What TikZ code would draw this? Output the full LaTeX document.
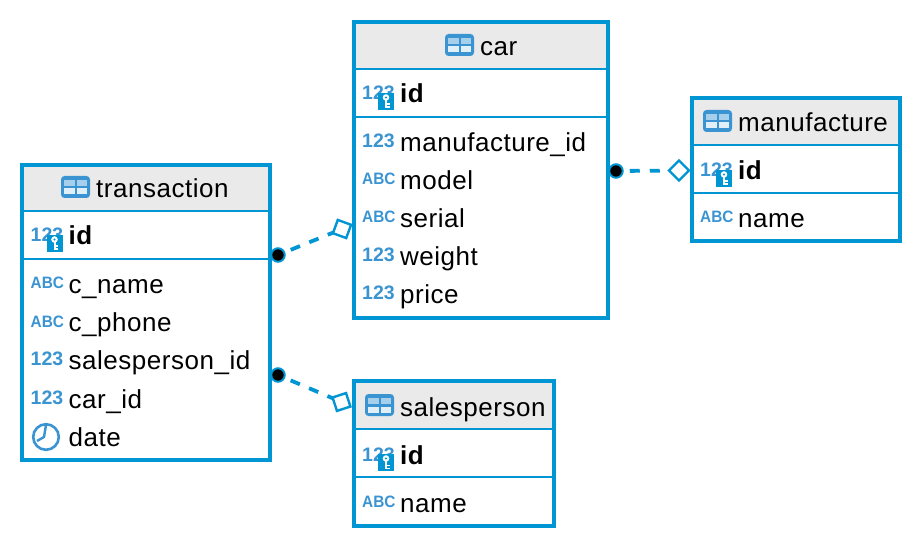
\documentclass[tikz,border=0pt]{standalone}
\usepackage{fontspec}
\setmainfont[LetterSpace=2.0]{Liberation Sans}
\newfontfamily\typefont{Liberation Sans}
\usetikzlibrary{shapes.geometric}
\definecolor{frameblue}{HTML}{0095D3}
\definecolor{iconblue}{HTML}{3A94D2}
\definecolor{headgrey}{HTML}{EAEAEA}
\tikzset{
  x=1pt,y=-1pt,
  tablebox/.style={draw=frameblue,line width=3.2pt,fill=white,inner sep=0pt,outer sep=0pt},
  rowtext/.style={anchor=base west,inner sep=0pt,font=\fontsize{26}{28}\selectfont,text=black},
  keytext/.style={rowtext,font=\fontsize{26}{28}\selectfont\bfseries},
  typetext/.style={anchor=base west,inner sep=0pt,font=\typefont\fontsize{19.5}{20}\selectfont\bfseries,text=iconblue},
  abctext/.style={anchor=base west,inner sep=0pt,xscale=.93,font=\typefont\fontsize{16.5}{18}\selectfont\bfseries,text=iconblue},
  sep/.style={draw=frameblue,line width=1.6pt},
  link/.style={draw=frameblue,line width=3.8pt,dash pattern=on 10pt off 10pt,dash phase=13pt},
  enddot/.style={circle,fill=black,draw=frameblue,line width=2pt,minimum size=13.5pt,inner sep=0pt,outer sep=0pt},
  endkite/.style={diamond,draw=frameblue,fill=white,line width=2.4pt,minimum size=20pt,inner sep=0pt,outer sep=0pt,aspect=1},
  pics/tableicon/.style={code={
    \fill[iconblue,rounded corners=3.5pt] (0,0) rectangle (29,22);
    \fill[white!55!iconblue] (3,4) rectangle (13.5,10);
    \fill[white!55!iconblue] (15.5,4) rectangle (26,10);
    \fill[white!85!iconblue] (3,12.5) rectangle (13.5,18.5);
    \fill[white!85!iconblue] (15.5,12.5) rectangle (26,18.5);
  }},
  pics/keyicon/.style={code={
    \fill[frameblue] (16,-1) rectangle (32,16);
    \fill[white] (24,3.5) circle (3.3);
    \fill[white] (23,5) rectangle (25,14);
    \fill[white] (25,9.5) rectangle (27.5,11);
    \fill[white] (25,12.5) rectangle (27.5,14);
    \fill[frameblue] (24,3.5) circle (1.2);
  }},
  pics/clockicon/.style={code={
    \draw[iconblue,line width=2.6pt] (14,0) circle (12.8);
    \draw[iconblue,line width=2.4pt] (14,-12) -- (12,0) -- (5,4);
  }}
}
\newcommand{\keyrow}[4]{%
  \node[typetext] (#1t) at (#2,#3+6) {123};
  \pic at (#2,#3) {keyicon};
  \node[keytext] (#1) at (#2+38,#3+9) {#4};}
\newcommand{\numrow}[4]{%
  \node[typetext] (#1t) at (#2,#3+5) {123};
  \node[rowtext] (#1) at (#2+38,#3+9) {#4};}
\newcommand{\abcrow}[4]{%
  \node[abctext] (#1t) at (#2,#3+4) {ABC};
  \node[rowtext] (#1) at (#2+38,#3+9) {#4};}
\newcommand{\tablehead}[8]{% name x1 y1 x2 y2 headline iconx title
  \node[tablebox,minimum width=#4pt-#2pt,minimum height=#5pt-#3pt,anchor=north west] (#1) at (#2,#3) {};
  \fill[headgrey] (#2+1.6,#3+1.6) rectangle (#4-1.6,#6);
  \draw[sep] (#1.north west |- 0,#6) -- (#1.north east |- 0,#6);
  \draw[frameblue,line width=3.2pt] (#1.north west) rectangle (#1.south east);
  \pic at (#7,#6-35) {tableicon};
  \node[rowtext] (#1title) at (#7+35,#6-13) {#8};}
\begin{document}
\begin{tikzpicture}
\useasboundingbox (0,0) rectangle (922,548);
\fill[white] (0,0) rectangle (922,548);

% transaction
\tablehead{transaction}{22}{165}{270}{460}{211}{61}{transaction}
\draw[sep] (transaction.west |- 0,259) -- (transaction.east |- 0,259);
\keyrow{tid}{30.5}{236}{id}
\abcrow{tname}{30.5}{285}{c\_name}
\abcrow{tphone}{30.5}{323}{c\_phone}
\numrow{tsales}{30.5}{361}{salesperson\_id}
\numrow{tcar}{30.5}{399}{car\_id}
\pic at (32,437) {clockicon};
\node[rowtext] (tdate) at (68.5,446) {date};

% car
\tablehead{car}{354}{22}{608}{318}{69}{445}{car}
\draw[sep] (car.west |- 0,117) -- (car.east |- 0,117);
\keyrow{cid}{362}{94}{id}
\numrow{cman}{362}{143}{manufacture\_id}
\abcrow{cmodel}{362}{181}{model}
\abcrow{cserial}{362}{219}{serial}
\numrow{cweight}{362}{257}{weight}
\numrow{cprice}{362}{295}{price}

% manufacture
\tablehead{manufacture}{692}{98}{900}{241}{145}{703}{manufacture}
\draw[sep] (manufacture.west |- 0,193) -- (manufacture.east |- 0,193);
\keyrow{mid}{700}{171}{id}
\abcrow{mname}{700}{219}{name}

% salesperson
\tablehead{salesperson}{354}{381}{554}{526}{429}{365}{salesperson}
\draw[sep] (salesperson.west |- 0,477) -- (salesperson.east |- 0,477);
\keyrow{sid}{362}{455}{id}
\abcrow{sname}{362}{503}{name}

% connector ends
\node[enddot] (d1) at (278,255) {};
\node[enddot] (d2) at (278,375) {};
\node[enddot] (d3) at (616,171) {};
\node[endkite,rotate=25] (k1) at (342,229) {};
\node[endkite,rotate=-27] (k2) at (341.5,402) {};
\node[endkite] (k3) at (679,170.5) {};
\draw[link] (d1) -- (k1);
\draw[link] (d2) -- (k2);
\draw[link] (d3) -- (k3);
\end{tikzpicture}
\end{document}
